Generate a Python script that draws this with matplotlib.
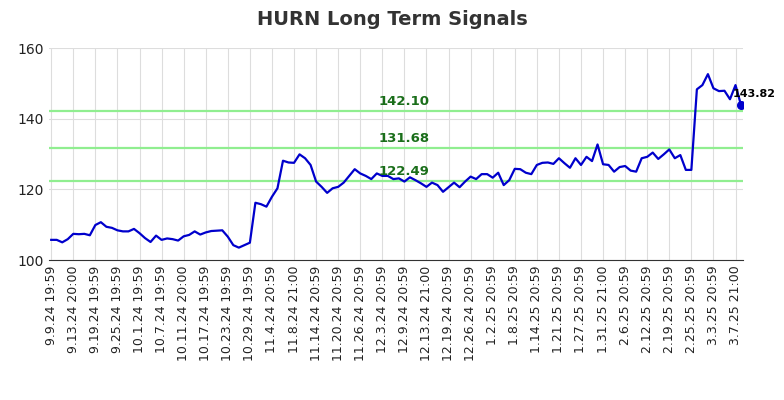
import matplotlib
matplotlib.use("Agg")
import matplotlib.pyplot as plt

# closing prices, one per trading day
prices = [
    105.7, 105.7, 105.0, 105.9, 107.4, 107.3, 107.4, 107.0, 109.9, 110.7,
    109.4, 109.1, 108.4, 108.1, 108.1, 108.8, 107.6, 106.2, 105.1, 106.9,
    105.7, 106.1, 105.9, 105.5, 106.7, 107.1, 108.1, 107.2, 107.8, 108.2,
    108.3, 108.4, 106.6, 104.2, 103.5, 104.2, 104.9, 116.2, 115.8, 115.1,
    117.9, 120.3, 128.1, 127.6, 127.5, 129.9, 128.8, 126.9, 122.2, 120.7,
    119.0, 120.3, 120.7, 121.9, 123.8, 125.7, 124.5, 123.8, 122.9, 124.5,
    123.8, 123.8, 122.9, 123.1, 122.2, 123.4, 122.6, 121.7, 120.7, 121.9,
    121.2, 119.3, 120.6, 121.9, 120.6, 122.2, 123.6, 122.9, 124.3, 124.3,
    123.3, 124.7, 121.2, 122.6, 125.8, 125.7, 124.7, 124.3, 126.9, 127.5,
    127.6, 127.2, 128.8, 127.4, 126.1, 128.8, 126.9, 129.2, 128.0, 132.7,
    127.1, 126.9, 125.0, 126.3, 126.6, 125.3, 125.0, 128.8, 129.2, 130.4,
    128.6, 129.9, 131.3, 128.8, 129.7, 125.5, 125.5, 148.3, 149.5, 152.6,
    148.6, 147.8, 147.9, 145.5, 149.5, 143.82,
]

tick_labels = [
    "9.9.24 19:59", "9.13.24 20:00", "9.19.24 19:59", "9.25.24 19:59",
    "10.1.24 19:59", "10.7.24 19:59", "10.11.24 20:00", "10.17.24 19:59",
    "10.23.24 19:59", "10.29.24 19:59", "11.4.24 20:59", "11.8.24 21:00",
    "11.14.24 20:59", "11.20.24 20:59", "11.26.24 20:59", "12.3.24 20:59",
    "12.9.24 20:59", "12.13.24 21:00", "12.19.24 20:59", "12.26.24 20:59",
    "1.2.25 20:59", "1.8.25 20:59", "1.14.25 20:59", "1.21.25 20:59",
    "1.27.25 20:59", "1.31.25 21:00", "2.6.25 20:59", "2.12.25 20:59",
    "2.19.25 20:59", "2.25.25 20:59", "3.3.25 20:59", "3.7.25 21:00",
]

signal_levels = [142.10, 131.68, 122.49]

fig = plt.figure(figsize=(7.84, 4.0), dpi=100)
ax = fig.add_axes([0.0625, 0.35, 0.8855, 0.53])

x = list(range(len(prices)))
ax.plot(x, prices, color="#0000cc", lw=1.6, zorder=3)

for level in signal_levels:
    ax.axhline(level, color="#90ee90", lw=1.6, zorder=2)
    ax.text(64, level + 0.8, f"{level:.2f}", color="#1a6e1a", fontsize=9.5,
            fontweight="bold", ha="center", va="bottom", zorder=4)

last = len(prices) - 1
ax.plot(last, prices[last], "o", color="#0000cc", ms=5.5, zorder=5)
ax.text(last + 2.4, prices[last] + 1.8, f"{prices[last]:.2f}", fontsize=8,
        fontweight="bold", color="black", ha="center", va="bottom", zorder=5,
        clip_on=False)

ax.set_xticks(x[::4])
ax.set_xticklabels(tick_labels, rotation=90, fontsize=9, color="#222222")
ax.set_yticks([100, 120, 140, 160])
ax.tick_params(axis="y", labelsize=10, colors="#222222", length=0)
ax.tick_params(axis="x", length=0, pad=4)
ax.set_xlim(-0.4, 125.4)
ax.set_ylim(100, 160)

ax.grid(True, color="#dddddd", lw=0.8, zorder=0)
for side in ["top", "right", "left"]:
    ax.spines[side].set_visible(False)
ax.spines["bottom"].set_color("#333333")

fig.suptitle("HURN Long Term Signals", x=0.5, y=0.975, fontsize=14,
             fontweight="bold", color="#333333")

fig.savefig("out.png", dpi=100)
